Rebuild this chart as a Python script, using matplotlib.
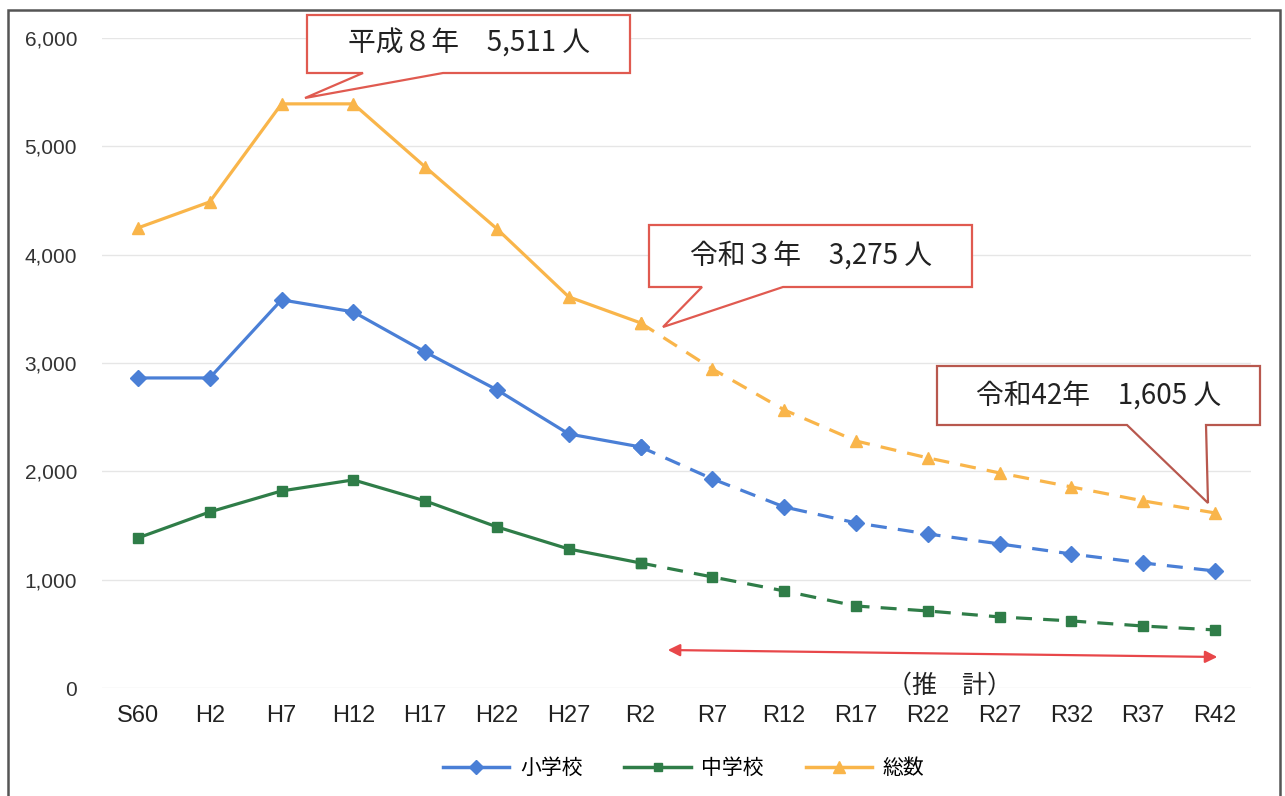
import numpy as np
import matplotlib
matplotlib.use("Agg")
import matplotlib.pyplot as plt
from matplotlib.patches import Polygon, Rectangle
from matplotlib.lines import Line2D
from matplotlib.ticker import FuncFormatter

plt.rcParams['font.family'] = ['Liberation Sans', 'Noto Sans CJK JP', 'DejaVu Sans']

# 年度（S60 〜 R42、R7以降は推計）
years = ['S60', 'H2', 'H7', 'H12', 'H17', 'H22', 'H27', 'R2',
         'R7', 'R12', 'R17', 'R22', 'R27', 'R32', 'R37', 'R42']

# 児童・生徒数（人）
elementary = [2862, 2862, 3583, 3472, 3102, 2752, 2345, 2225,
              1930, 1671, 1524, 1422, 1330, 1237, 1154, 1080]
junior = [1385, 1625, 1819, 1921, 1727, 1487, 1283, 1154,
          1025, 896, 757, 711, 656, 619, 572, 536]
total = [4247, 4487, 5392, 5392, 4810, 4238, 3610, 3370,
         2945, 2567, 2280, 2124, 1985, 1856, 1727, 1616]

series_names = ['小学校', '中学校', '総数']
colors = ['#4a7fd6', '#2f7d48', '#f9b54a']
markers = ['D', 's', '^']
msizes = [8, 7, 9]

last_actual = 7   # R2 までが実績

W, H = 1285, 796
fig = plt.figure(figsize=(W / 100, H / 100), dpi=100)
ax = fig.add_axes([102 / W, 1 - 688 / H, 1149 / W, 650 / H])

x = np.arange(len(years))
for vals, c, m, ms in zip([elementary, junior, total], colors, markers, msizes):
    ax.plot(x[:last_actual + 1], vals[:last_actual + 1], color=c, lw=2.3,
            marker=m, ms=ms, zorder=3)
    ax.plot(x[last_actual:], vals[last_actual:], color=c, lw=2.3,
            ls=(0, (5, 3.5)), marker=m, ms=ms, zorder=3)

ax.set_xlim(-0.5, len(years) - 0.5)
ax.set_ylim(0, 6000)
ax.set_yticks(range(0, 6001, 1000))
ax.yaxis.set_major_formatter(FuncFormatter(lambda v, p: f'{int(v):,}'))
ax.set_xticks(x)
ax.set_xticklabels(years, fontsize=17, color='#222')
ax.tick_params(axis='y', length=0, pad=18, labelsize=15, labelcolor='#333')
ax.tick_params(axis='x', length=0, pad=12)
ax.grid(axis='y', color='#e6e6e6', lw=1)
ax.set_axisbelow(True)
for s in ax.spines.values():
    s.set_visible(False)

# 推計期間の矢印
ax.annotate('', xy=(15.07, 286), xytext=(7.34, 351),
            arrowprops=dict(arrowstyle='<|-|>', color='#e8474a', lw=1.6,
                            mutation_scale=18))
ax.text(11.3, 20, '（推　計）', ha='center', va='center', fontsize=18,
        family=['Noto Sans CJK JP'], color='#222')


# 吹き出し（ピクセル座標）
def px(xp, yp):
    return (xp / W, 1 - yp / H)


def callout(box, tail, tip, text, edge):
    x0, y0, x1, y1 = box
    pts = [px(x0, y0), px(x1, y0), px(x1, y1), px(tail[1], y1), px(*tip),
           px(tail[0], y1), px(x0, y1)]
    fig.patches.append(Polygon(pts, closed=True, transform=fig.transFigure,
                               facecolor='white', edgecolor=edge, lw=1.6,
                               zorder=5))
    cx, cy = px((x0 + x1) / 2, (y0 + y1) / 2)
    fig.text(cx, cy, text, ha='center', va='center', fontsize=20,
             family=['Noto Sans CJK JP'], color='#222', zorder=6)


callout((307, 15, 630, 73), (363, 443), (305, 98), '平成８年　5,511 人', '#e05a50')
callout((649, 225, 972, 287), (702, 783), (663, 327), '令和３年　3,275 人', '#e05a50')
callout((937, 366, 1260, 425), (1127, 1206), (1208, 503), '令和42年　1,605 人', '#b8584e')

# 凡例
handles = [Line2D([], [], color=c, lw=2.5, marker=m, ms=ms - 1)
           for c, m, ms in zip(colors, markers, msizes)]
fig.legend(handles, series_names, loc='center', bbox_to_anchor=(0.532, 1 - 768 / H),
           ncol=3, frameon=False, handlelength=3.2, columnspacing=2.0,
           handletextpad=0.5,
           prop={'family': ['Noto Sans CJK JP'], 'size': 15})

# 外枠
fig.patches.append(Rectangle((8 / W, -0.05), (1280 - 8) / W, 1 - 10 / H + 0.05,
                             transform=fig.transFigure, fill=False,
                             edgecolor='#555555', lw=1.8))

fig.savefig('out.png', dpi=100)
